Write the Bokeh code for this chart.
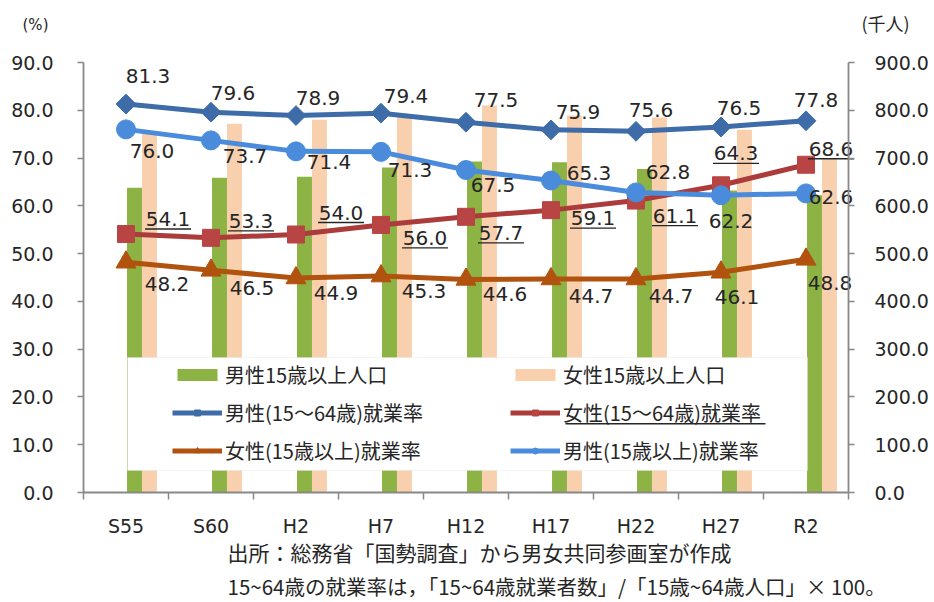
import numpy as np
from bokeh.plotting import figure
from bokeh.models import (Range1d, LinearAxis, FixedTicker, PrintfTickFormatter, ColumnDataSource,
                          Legend, LegendItem, BoxAnnotation, Label, CustomJSTickFormatter)
from bokeh.transform import dodge
from bokeh.core.properties import value
from bokeh.embed import file_html
from bokeh.resources import INLINE

# ---------------- data ----------------
categories = ["S55", "S60", "H2", "H7", "H12", "H17", "H22", "H27", "R2"]
male_pop = [638, 659, 661, 680, 693, 691, 677, 632, 622]        # 千人 (right axis)
female_pop = [751, 772, 780, 786, 810, 789, 785, 759, 699]      # 千人 (right axis)
male_1564 = [81.3, 79.6, 78.9, 79.4, 77.5, 75.9, 75.6, 76.5, 77.8]
female_1564 = [54.1, 53.3, 54.0, 56.0, 57.7, 59.1, 61.1, 64.3, 68.6]
female_15p = [48.2, 46.5, 44.9, 45.3, 44.6, 44.7, 44.7, 46.1, 48.8]
male_15p = [76.0, 73.7, 71.4, 71.3, 67.5, 65.3, 62.8, 62.2, 62.6]
left_ticks = [0, 10, 20, 30, 40, 50, 60, 70, 80, 90]
right_ticks = [0, 100, 200, 300, 400, 500, 600, 700, 800, 900]

legend_names = ["男性15歳以上人口", "女性15歳以上人口",
                "男性(15～64歳)就業率", "女性(15～64歳)就業率",
                "女性(15歳以上)就業率", "男性(15歳以上)就業率"]
unit_left = "(%)"
unit_right = "(千人)"
note1 = "出所：総務省「国勢調査」から男女共同参画室が作成"
note2 = "15~64歳の就業率は，「15~64歳就業者数」/「15歳~64歳人口」× 100。"

# label placement (pixel offsets from each point)
m1564_dx = [22, 22, 22, 25, 30, 27, 15, 18, 10]
m1564_dy = [-28, -19, -18, -17, -22, -18, -21, -19, -21]
m15p_dx = [26, 34, 33, 29, 27, 38, 32, 10, 25]
m15p_dy = [22, 16, 11, 18, 15, -8, -20, 26, 4]
f1564_dx = [42, 40, 45, 44, 35, 42, 39, 15, 25]
f1564_dy = [-15, -17, -22, 13, 16, 8, 15, -32, -16]
f15p_dx = [41, 41, 40, 43, 39, 40, 35, 16, 24]
f15p_dy = [22, 18, 15, 15, 15, 17, 17, 25, 24]

# ---------------- layout / styling ----------------
W, H = 930, 600
AX_L, AX_R, AX_T, AX_B = 83, 848, 62, 492      # pixel positions of the axis frame
n = len(categories)
XPX = (AX_R - AX_L) / n
YPX = (AX_B - AX_T) / (left_ticks[-1] - left_ticks[0])
RSCALE = right_ticks[-1] / left_ticks[-1]

NUM_FONT = "DejaVu Sans"
JP_FONT = "Noto Sans CJK JP"
TXT = "#262626"
AXIS = "#888888"
C_GREEN = "#8DB345"
C_PEACH = "#F9D0AE"
C_M1564 = "#3D6CA8"
C_F1564_L = "#AC3B3B"
C_F1564_M = "#B94444"
C_F15P = "#B1520F"
C_M15P = "#4A8CDB"

xc = np.arange(n) + 0.5

y0 = left_ticks[0] - (H - AX_B) / YPX
y1 = left_ticks[-1] + AX_T / YPX
p = figure(width=W, height=H, output_backend="svg", toolbar_location=None,
           x_range=Range1d(-AX_L / XPX, (W - AX_L) / XPX),
           y_range=Range1d(y0, y1),
           min_border=0, min_border_left=0, min_border_right=0,
           min_border_top=0, min_border_bottom=0)
p.extra_y_ranges = {"pop": Range1d(y0 * RSCALE, y1 * RSCALE)}
p.outline_line_color = None
p.xgrid.visible = False
p.ygrid.visible = False
p.background_fill_color = "white"
p.border_fill_color = "white"

# axes (fixed at the data origin / right end of the categories)
xa = p.xaxis[0]
xa.fixed_location = left_ticks[0]
xa.bounds = (0, n)
xa.ticker = FixedTicker(ticks=list(xc), minor_ticks=list(range(n + 1)))
xa.formatter = CustomJSTickFormatter(args=dict(cats=categories),
                                     code="return cats[Math.floor(tick)] || '';")
xa.major_tick_line_color = None
xa.major_tick_out = 0
xa.major_tick_in = 0
xa.minor_tick_line_color = AXIS
xa.minor_tick_line_width = 1.5
xa.minor_tick_out = 7
xa.minor_tick_in = 0
xa.major_label_standoff = 15

ya = p.yaxis[0]
ya.fixed_location = 0
ya.bounds = (left_ticks[0], left_ticks[-1])
ya.ticker = FixedTicker(ticks=left_ticks)
ya.formatter = PrintfTickFormatter(format="%.1f")
ya.major_label_standoff = 24

ra = LinearAxis(y_range_name="pop", ticker=FixedTicker(ticks=right_ticks),
                formatter=PrintfTickFormatter(format="%.1f"))
ra.fixed_location = n
ra.bounds = (right_ticks[0], right_ticks[-1])
ra.major_label_standoff = 20
p.add_layout(ra, "right")

for ax in [xa, ya, ra]:
    ax.axis_line_color = AXIS
    ax.axis_line_width = 1.8
    ax.major_label_text_font = NUM_FONT
    ax.major_label_text_font_size = "19px"
    ax.major_label_text_color = TXT
for ax in [ya, ra]:
    ax.major_tick_line_color = AXIS
    ax.major_tick_line_width = 1.5
    ax.major_tick_out = 6
    ax.major_tick_in = 0
    ax.minor_tick_line_color = None

# ---------------- bars ----------------
src_bar = ColumnDataSource(dict(x=xc, m=male_pop, f=female_pop))
r_mbar = p.vbar(x=dodge("x", 0.1, range=p.x_range), top="m", width=0.176, bottom=0,
                source=src_bar, y_range_name="pop", fill_color=C_GREEN, line_color=None)
r_fbar = p.vbar(x=dodge("x", 0.276, range=p.x_range), top="f", width=0.176, bottom=0,
                source=src_bar, y_range_name="pop", fill_color=C_PEACH, line_color=None)

# ---------------- lines ----------------
def series(vals, color, mcolor, marker, size, angle=0.0):
    src = ColumnDataSource(dict(x=xc, y=vals))
    rl = p.line("x", "y", source=src, line_color=color, line_width=5)
    rs = p.scatter("x", "y", source=src, marker=marker, size=size, angle=angle,
                   fill_color=mcolor, line_color=mcolor)
    return [rl, rs]

r_m1564 = series(male_1564, C_M1564, C_M1564, "square", 14, np.pi / 4)
r_f1564 = series(female_1564, C_F1564_L, C_F1564_M, "square", 17)
r_f15p = series(female_15p, C_F15P, C_F15P, "triangle", 20)
r_m15p = series(male_15p, C_M15P, C_M15P, "circle", 19)

# ---------------- data labels ----------------
def labels(vals, dx, dy):
    src = ColumnDataSource(dict(x=xc, y=vals, t=[f"{v:.1f}" for v in vals], dx=dx, dy=dy))
    p.text("x", "y", text="t", x_offset="dx", y_offset="dy", source=src,
           text_font=value(NUM_FONT), text_font_size="20px", text_color=TXT,
           text_align="center", text_baseline="middle")

labels(male_1564, m1564_dx, m1564_dy)
labels(male_15p, m15p_dx, m15p_dy)
labels(female_1564, f1564_dx, f1564_dy)
labels(female_15p, f15p_dx, f15p_dy)

# underline for female 15-64 labels (derived from points + label offsets)
half_w = 23
ul = ColumnDataSource(dict(
    x0=[x + (d - half_w) / XPX for x, d in zip(xc, f1564_dx)],
    x1=[x + (d + half_w) / XPX for x, d in zip(xc, f1564_dx)],
    y=[v - (d + 10) / YPX for v, d in zip(female_1564, f1564_dy)]))
p.segment(x0="x0", y0="y", x1="x1", y1="y", source=ul, line_color=TXT, line_width=1.3)

# ---------------- legend ----------------
p.add_layout(BoxAnnotation(left=127, right=807, bottom=H - 470, top=H - 357,
                           left_units="screen", right_units="screen",
                           bottom_units="screen", top_units="screen",
                           fill_color="white", fill_alpha=1.0,
                           line_color="#D9D9D9", line_width=1, level="annotation"))
items = [LegendItem(label=legend_names[0], renderers=[r_mbar]),
         LegendItem(label=legend_names[1], renderers=[r_fbar]),
         LegendItem(label=legend_names[2], renderers=r_m1564),
         LegendItem(label=legend_names[3], renderers=r_f1564),
         LegendItem(label=legend_names[4], renderers=r_f15p),
         LegendItem(label=legend_names[5], renderers=r_m15p)]
leg = Legend(items=items, location=(172, H - AX_B + 27), orientation="horizontal", ncols=2,
             border_line_color=None, background_fill_alpha=0, padding=0, margin=0,
             spacing=9, glyph_width=50, glyph_height=15, label_standoff=3,
             label_width=276, label_height=20,
             label_text_font=JP_FONT, label_text_font_size="20px", label_text_color=TXT)
p.add_layout(leg, "center")
# underline of 女性(15～64歳)就業率 in legend
p.add_layout(BoxAnnotation(left=565, right=765, bottom=H - 424, top=H - 422.6,
                           left_units="screen", right_units="screen",
                           bottom_units="screen", top_units="screen",
                           fill_color=TXT, fill_alpha=1.0, line_color=None))

# ---------------- unit labels and notes ----------------
p.add_layout(Label(x=35, y=H - 24, x_units="screen", y_units="screen", text=unit_left,
                   text_font=NUM_FONT, text_font_size="15px", text_color=TXT,
                   text_align="center", text_baseline="middle"))
p.add_layout(Label(x=885, y=H - 22, x_units="screen", y_units="screen", text=unit_right,
                   text_font=JP_FONT, text_font_size="18px", text_color=TXT,
                   text_align="center", text_baseline="middle"))
p.add_layout(Label(x=227, y=H - 551, x_units="screen", y_units="screen", text=note1,
                   text_font=JP_FONT, text_font_size="21px", text_color=TXT,
                   text_align="left", text_baseline="middle"))
p.add_layout(Label(x=227, y=H - 585, x_units="screen", y_units="screen", text=note2,
                   text_font=JP_FONT, text_font_size="20.5px", text_color=TXT,
                   text_align="left", text_baseline="middle"))

open("out.html", "w").write(file_html(p, INLINE))
